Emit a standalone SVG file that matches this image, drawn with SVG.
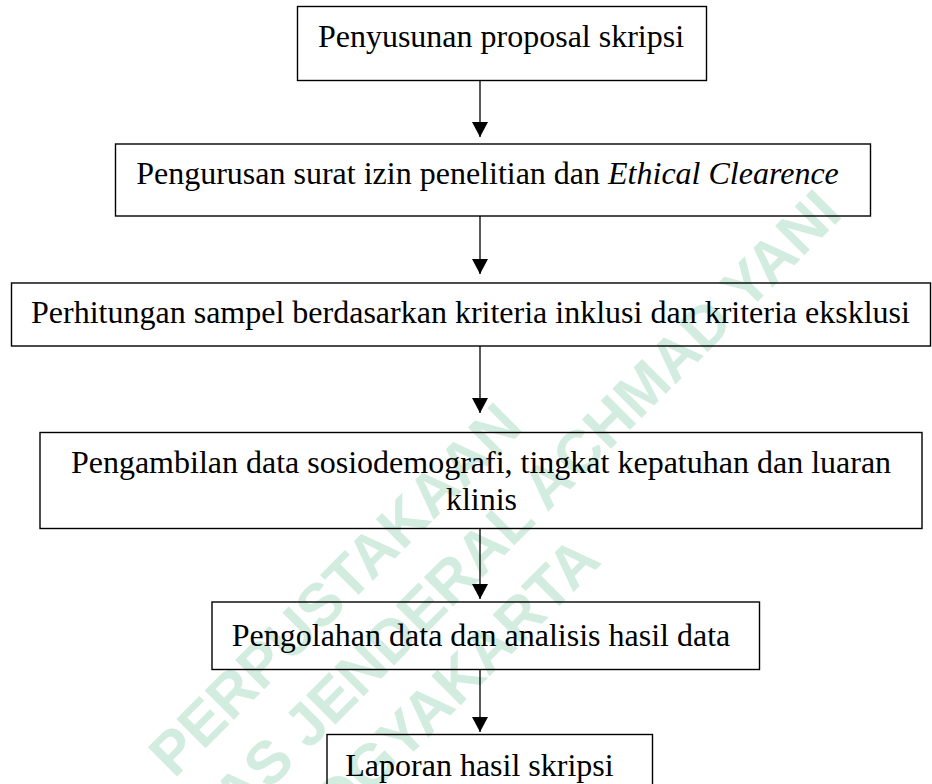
<svg xmlns="http://www.w3.org/2000/svg" width="932" height="784" viewBox="0 0 932 784">
<style>
.wm{font-family:"Liberation Sans",Arial,sans-serif;font-weight:bold;font-size:60px;fill:#d3ece0;text-anchor:middle}
.box{fill:none;stroke:#000;stroke-width:1.4}
.lbl{font-family:"Liberation Serif","Times New Roman",serif;font-size:32px;fill:#000;text-anchor:middle}
.conn{stroke:#000;stroke-width:1.3;fill:none}
</style>
<defs>
<marker id="ah" viewBox="0 0 15 16" markerWidth="15" markerHeight="16" refX="15" refY="8" orient="auto" markerUnits="userSpaceOnUse">
<path d="M0,0 L15,8 L0,16 Z" fill="#000"/>
</marker>
</defs>
<rect width="932" height="784" fill="#fff"/>
<g id="watermark" transform="translate(404,616) rotate(-45)">
<text class="wm" x="-30" y="-47">PERPUSTAKAAN</text>
<text class="wm" x="8" y="28" font-size="62">UNIVERSITAS JENDERAL ACHMAD YANI</text>
<text class="wm" x="-30" y="103">YOGYAKARTA</text>
</g>
<g id="connectors">
<line class="conn" x1="480" y1="80" x2="480" y2="137" marker-end="url(#ah)"/>
<line class="conn" x1="480" y1="216" x2="480" y2="274" marker-end="url(#ah)"/>
<line class="conn" x1="480" y1="346" x2="480" y2="413" marker-end="url(#ah)"/>
<line class="conn" x1="480" y1="528" x2="480" y2="599" marker-end="url(#ah)"/>
<line class="conn" x1="480" y1="669" x2="480" y2="732" marker-end="url(#ah)"/>
</g>
<g id="n1">
<rect class="box" x="297.5" y="6.5" width="409" height="74"/>
<text class="lbl" x="501" y="47">Penyusunan proposal skripsi</text>
</g>
<g id="n2">
<rect class="box" x="115.5" y="144" width="755" height="72"/>
<text class="lbl" x="487.5" y="184">Pengurusan surat izin penelitian dan <tspan font-style="italic">Ethical Clearence</tspan></text>
</g>
<g id="n3">
<rect class="box" x="11.5" y="283" width="919" height="63"/>
<text class="lbl" x="470.5" y="323">Perhitungan sampel berdasarkan kriteria inklusi dan kriteria eksklusi</text>
</g>
<g id="n4">
<rect class="box" x="40" y="432.5" width="882" height="96"/>
<text class="lbl" x="481" y="472.5">Pengambilan data sosiodemografi, tingkat kepatuhan dan luaran</text>
<text class="lbl" x="481.5" y="510">klinis</text>
</g>
<g id="n5">
<rect class="box" x="212" y="602" width="547.5" height="67.5"/>
<text class="lbl" x="481" y="646">Pengolahan data dan analisis hasil data</text>
</g>
<g id="n6">
<rect class="box" x="327" y="734.5" width="325.5" height="70"/>
<text class="lbl" x="479.5" y="776">Laporan hasil skripsi</text>
</g>
</svg>
